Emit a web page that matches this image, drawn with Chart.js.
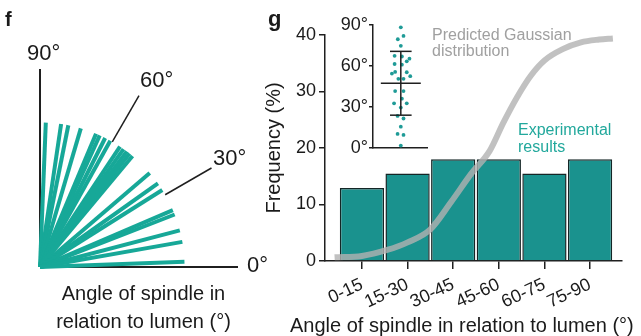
<!DOCTYPE html>
<html>
<head>
<meta charset="utf-8">
<script src="https://cdn.jsdelivr.net/npm/chart.js@4.4.0/dist/chart.umd.min.js"></script>
<style>
  body { margin: 0; background: #fff; width: 641px; height: 336px; overflow: hidden; position: relative;
         font-family: "Liberation Sans", Arial, sans-serif; color: #1a1a1a; }
  canvas { position: absolute; }
  .txt { position: absolute; line-height: 1; white-space: nowrap; }
</style>
</head>
<body>
<canvas id="fanChart" width="270" height="280" style="left:0;top:0"></canvas>
<canvas id="freqChart" width="381" height="336" style="left:260px;top:0"></canvas>
<canvas id="insetChart" width="115" height="150" style="left:320px;top:10px"></canvas>

<div class="txt" style="left:5px;top:9px;font-size:20px;font-weight:bold">f</div>
<div class="txt" style="left:268px;top:8px;font-size:22px;font-weight:bold">g</div>

<div class="txt" style="left:27px;top:42px;font-size:22px">90°</div>
<div class="txt" style="left:140px;top:69px;font-size:22px">60°</div>
<div class="txt" style="left:213px;top:147px;font-size:22px">30°</div>
<div class="txt" style="left:247px;top:254px;font-size:22px">0°</div>
<div class="txt" style="left:0;top:280px;width:287px;text-align:center;font-size:20px;line-height:27.5px;white-space:normal">Angle of spindle in<br>relation to lumen (°)</div>

<div class="txt" style="left:432px;top:27px;font-size:16px;line-height:16px;color:#a0a0a0">Predicted Gaussian<br>distribution</div>
<div class="txt" style="left:518px;top:121px;font-size:16px;line-height:17.4px;color:#22a89c">Experimental<br>results</div>
<div class="txt" style="left:290px;top:315px;font-size:20px">Angle of spindle in relation to lumen (°)</div>

<script>
// panel f: spindle angles (degrees)
const fanAngles = [2.1, 10, 14.7, 21.3, 23.2, 32.2, 35.3, 40.6, 50.2, 51.7, 53.1, 54.7, 56.4,
                   60.9, 63.2, 65.6, 67.2, 73.6, 78.7, 81.6, 87.7];
const spindleLength = 0.73;
const calloutAngles = [30, 60];
const axisAngles = [0, 90];

// panel g: histogram
const binLabels = ['0-15', '15-30', '30-45', '45-60', '60-75', '75-90'];
const binFrequency = [12.9, 15.5, 18.0, 18.0, 15.5, 18.0];
const freqTicks = [0, 10, 20, 30, 40];

// predicted gaussian curve (x in bin index units)
const gaussX = [-0.6, 0, 0.55, 1.0, 1.5, 1.95, 2.4, 2.8, 3.1, 3.4, 3.7, 4.0, 4.4, 4.8, 5.2, 5.5];
const gaussY = [0.65, 0.9, 1.95, 3.3, 5.6, 10.4, 15.5, 19.5, 24.5, 29, 32.8, 35.5, 37.5, 38.7, 39.2, 39.4];

// inset: individual angles and their horizontal spread
const insetAngles = [88.3, 82, 79.6, 74.8, 67.5, 67, 65.4, 63.5, 61.5, 61, 55.7, 55.5, 54.5, 52.6,
                     50.7, 50.7, 41.7, 41.7, 36.2, 32.8, 32.8, 29.7, 23.6, 21.7, 15.7, 10.4, 9.7, 1.9];
const insetSpread = [0, 0.1, -0.11, 0, -0.23, 0.04, 0.32, 0.22, -0.23, 0.04, -0.21, 0.22, -0.33, 0.35,
                     -0.09, 0.1, -0.21, 0.1, 0.04, -0.25, 0.22, 0, -0.12, 0.1, 0, -0.12, 0.1, 0];
const insetTicks = [0, 30, 60, 90];

Chart.defaults.font.family = '"Liberation Sans", Arial, sans-serif';
Chart.defaults.color = '#1a1a1a';
Chart.defaults.animation = false;

const fanColor = '#17a898';
const barColor = '#1a928e';
const dotColor = '#1f9b97';
const axisColor = '#1f1f1f';

const rad = d => d * Math.PI / 180;
const polar = (a, r) => ({ x: r * Math.cos(rad(a)), y: r * Math.sin(rad(a)) });
const segment = (pts, color, width, order) => ({
    data: pts, borderColor: color, borderWidth: width, borderCapStyle: 'butt',
    showLine: true, pointRadius: 0, clip: false, order: order
});

// ---------- fan (panel f)
const fanSets = fanAngles.map(a => segment([{ x: 0, y: 0 }, polar(a, spindleLength)], fanColor, 4, 1));
const calloutSets = calloutAngles.map(a => segment([polar(a, spindleLength), polar(a, 1)], axisColor, 1.5, 0));
const axisSets = axisAngles.map(a => segment([polar(a, 0), polar(a, 1)], axisColor, 2, 2));

new Chart(document.getElementById('fanChart'), {
    type: 'scatter',
    data: { datasets: [...calloutSets, ...fanSets, ...axisSets] },
    options: {
        responsive: false,
        layout: { padding: { left: 40, top: 69, right: 32, bottom: 13 } },
        plugins: { legend: { display: false }, tooltip: { enabled: false } },
        scales: {
            x: { display: false, min: 0, max: 1 },
            y: { display: false, min: 0, max: 1 }
        }
    }
});

// ---------- histogram (panel g)
new Chart(document.getElementById('freqChart'), {
    type: 'bar',
    data: {
        datasets: [{
            type: 'line',
            order: 0,
            data: gaussX.map((x, i) => ({ x: x, y: gaussY[i] })),
            borderColor: 'rgba(178,178,178,0.8)',
            borderWidth: 6,
            borderCapStyle: 'butt',
            cubicInterpolationMode: 'monotone',
            pointRadius: 0,
            clip: false
        }, {
            order: 1,
            data: binFrequency.map((v, i) => ({ x: i, y: v })),
            backgroundColor: barColor,
            borderColor: '#142626',
            borderWidth: 1.5,
            categoryPercentage: 1,
            barPercentage: 0.97
        }]
    },
    options: {
        responsive: false,
        layout: { padding: { left: 0, top: 35, right: 19, bottom: 0 } },
        plugins: { legend: { display: false }, tooltip: { enabled: false } },
        scales: {
            x: {
                type: 'linear', min: -0.81, max: 5.7, offset: false,
                afterBuildTicks: s => { s.ticks = binLabels.map((_, i) => ({ value: i })); },
                afterFit: s => { s.height = 75; },
                ticks: { autoSkip: false, minRotation: 25, maxRotation: 25, padding: 5,
                         font: { size: 18 }, color: '#1a1a1a',
                         callback: v => binLabels[v] },
                grid: { offset: false, drawOnChartArea: false, drawTicks: true, tickLength: 8,
                        color: axisColor, lineWidth: 1.5 },
                border: { display: true, color: axisColor, width: 1.5 }
            },
            y: {
                min: 0, max: 40,
                afterBuildTicks: s => { s.ticks = freqTicks.map(v => ({ value: v })); },
                afterFit: s => { s.width = 65; },
                ticks: { padding: 3, font: { size: 18 }, color: '#1a1a1a' },
                grid: { drawOnChartArea: false, drawTicks: true, tickLength: 6, color: axisColor, lineWidth: 1.5 },
                border: { display: true, color: axisColor, width: 1.5 },
                title: { display: true, text: 'Frequency (%)', font: { size: 20 }, color: '#1a1a1a',
                         padding: { top: 2, bottom: 0 } }
            }
        }
    }
});

// ---------- inset scatter with mean ± SD
const mean = insetAngles.reduce((a, b) => a + b, 0) / insetAngles.length;
const sd = Math.sqrt(insetAngles.reduce((a, b) => a + (b - mean) ** 2, 0) / (insetAngles.length - 1));
const lineSet = pts => ({ type: 'line', data: pts, borderColor: axisColor, borderWidth: 1.5,
                          pointRadius: 0, clip: false });

new Chart(document.getElementById('insetChart'), {
    type: 'scatter',
    data: {
        datasets: [
            lineSet([{ x: -0.74, y: mean }, { x: 0.74, y: mean }]),
            lineSet([{ x: 0, y: mean - sd }, { x: 0, y: mean + sd }]),
            lineSet([{ x: -0.4, y: mean + sd }, { x: 0.4, y: mean + sd }]),
            lineSet([{ x: -0.4, y: mean - sd }, { x: 0.4, y: mean - sd }]),
            {
                data: insetAngles.map((v, i) => ({ x: insetSpread[i], y: v })),
                backgroundColor: dotColor,
                borderWidth: 0,
                pointRadius: 1.9,
                clip: false
            }
        ]
    },
    options: {
        responsive: false,
        layout: { padding: { left: 0, top: 15, right: 8, bottom: 0 } },
        plugins: { legend: { display: false }, tooltip: { enabled: false } },
        scales: {
            x: { type: 'linear', min: -1.03, max: 0.97, ticks: { display: false },
                 grid: { display: false, drawTicks: false },
                 border: { display: true, color: axisColor, width: 1.5 },
                 afterFit: s => { s.height = 10.7; } },
            y: { min: 0, max: 90,
                 afterBuildTicks: s => { s.ticks = insetTicks.map(v => ({ value: v })); },
                 afterFit: s => { s.width = 53; },
                 ticks: { padding: 1, font: { size: 18 }, color: '#1a1a1a', callback: v => v + '°' },
                 grid: { drawOnChartArea: false, drawTicks: true, tickLength: 4, color: axisColor, lineWidth: 1.5 },
                 border: { display: true, color: axisColor, width: 1.5 } }
        }
    }
});
</script>
</body>
</html>
